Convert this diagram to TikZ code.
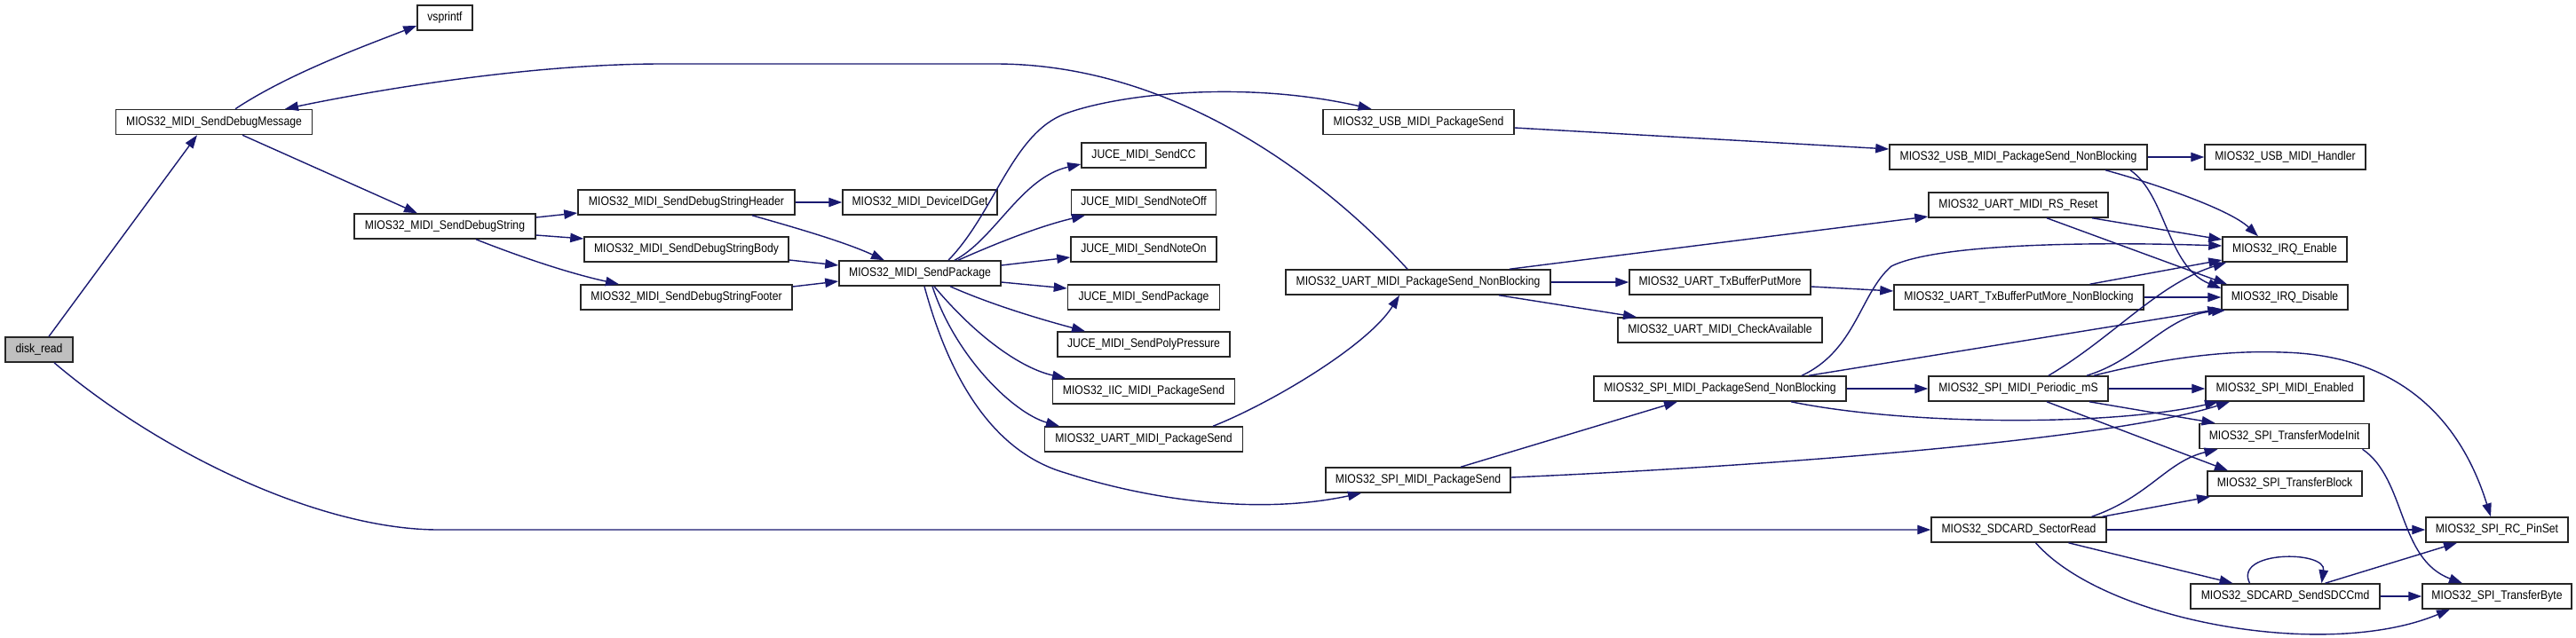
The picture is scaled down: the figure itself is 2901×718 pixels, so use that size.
\documentclass[tikz,border=0pt]{standalone}
\usepackage{fontspec}
\newfontfamily\gfont[FakeStretch=0.87]{Liberation Sans}
\usetikzlibrary{arrows.meta,calc}
\definecolor{edgec}{RGB}{25,25,112}
\begin{document}
\begin{tikzpicture}[x=0.5pt,y=-0.5pt,
 box/.style={draw=black!85,line width=0.75pt,fill=white,inner sep=0pt,minimum height=14pt,text height=5pt,text depth=1.4pt,font=\gfont\fontsize{7}{8}\selectfont},
 bw/.style={minimum width=#1*0.5pt},
 ar/.style={draw=edgec,line width=0.7pt,-{Triangle[length=7.5pt,width=5.2pt]}}]
\useasboundingbox (0,0) rectangle (2901,718);
\node[box,bw=76,fill=gray!50] (disk) at (44,394) {disk\_read};
\node[box,bw=62] (vsp) at (501,20) {vsprintf};
\node[box,bw=221] (dm) at (241,137.5) {MIOS32\_MIDI\_SendDebugMessage};
\node[box,bw=204] (ds) at (501,255) {MIOS32\_MIDI\_SendDebugString};
\node[box,bw=244] (hdr) at (773,228) {MIOS32\_MIDI\_SendDebugStringHeader};
\node[box,bw=230] (body) at (773,281) {MIOS32\_MIDI\_SendDebugStringBody};
\node[box,bw=238] (foot) at (773,335) {MIOS32\_MIDI\_SendDebugStringFooter};
\node[box,bw=174] (devid) at (1036,228) {MIOS32\_MIDI\_DeviceIDGet};
\node[box,bw=182] (sp) at (1036,308) {MIOS32\_MIDI\_SendPackage};
\node[box,bw=140] (jcc) at (1288,175) {JUCE\_MIDI\_SendCC};
\node[box,bw=163] (joff) at (1288,228) {JUCE\_MIDI\_SendNoteOff};
\node[box,bw=164] (jon) at (1288,281) {JUCE\_MIDI\_SendNoteOn};
\node[box,bw=171] (jpk) at (1288,335) {JUCE\_MIDI\_SendPackage};
\node[box,bw=194] (jpoly) at (1288,388) {JUCE\_MIDI\_SendPolyPressure};
\node[box,bw=205] (iic) at (1288,441) {MIOS32\_IIC\_MIDI\_PackageSend};
\node[box,bw=223] (uartps) at (1288,495) {MIOS32\_UART\_MIDI\_PackageSend};
\node[box,bw=215] (usbps) at (1597.5,137.5) {MIOS32\_USB\_MIDI\_PackageSend};
\node[box,bw=298] (uartnb) at (1597,318) {MIOS32\_UART\_MIDI\_PackageSend\_NonBlocking};
\node[box,bw=208] (spips) at (1597,541) {MIOS32\_SPI\_MIDI\_PackageSend};
\node[box,bw=204] (txpm) at (1937,318) {MIOS32\_UART\_TxBufferPutMore};
\node[box,bw=230] (chk) at (1937,372) {MIOS32\_UART\_MIDI\_CheckAvailable};
\node[box,bw=284] (spinb) at (1937,438) {MIOS32\_SPI\_MIDI\_PackageSend\_NonBlocking};
\node[box,bw=290] (usbnb) at (2273,177) {MIOS32\_USB\_MIDI\_PackageSend\_NonBlocking};
\node[box,bw=202] (rsr) at (2273,231) {MIOS32\_UART\_MIDI\_RS\_Reset};
\node[box,bw=281] (txnb) at (2273.5,335) {MIOS32\_UART\_TxBufferPutMore\_NonBlocking};
\node[box,bw=202] (per) at (2273,438) {MIOS32\_SPI\_MIDI\_Periodic\_mS};
\node[box,bw=197] (sect) at (2273.5,597) {MIOS32\_SDCARD\_SectorRead};
\node[box,bw=181] (usbh) at (2573.5,177) {MIOS32\_USB\_MIDI\_Handler};
\node[box,bw=140] (irqe) at (2573,281) {MIOS32\_IRQ\_Enable};
\node[box,bw=142] (irqd) at (2573,335) {MIOS32\_IRQ\_Disable};
\node[box,bw=178] (ena) at (2573,438) {MIOS32\_SPI\_MIDI\_Enabled};
\node[box,bw=191] (tmi) at (2572.5,491.5) {MIOS32\_SPI\_TransferModeInit};
\node[box,bw=174] (tblk) at (2573,545) {MIOS32\_SPI\_TransferBlock};
\node[box,bw=213] (sdc) at (2573.5,672) {MIOS32\_SDCARD\_SendSDCCmd};
\node[box,bw=160] (rcp) at (2812,597) {MIOS32\_SPI\_RC\_PinSet};
\node[box,bw=168] (tbyte) at (2812,672) {MIOS32\_SPI\_TransferByte};
% edges
\draw[ar] ($(disk.north)+(11,0)$) -- ($(dm.south)+(-19,0)$);
\draw[ar] ($(disk.south)+(17,0)$) .. controls (180,510) and (360,597) .. (494,597) -- (sect.west);
\draw[ar] ($(dm.north)+(24,0)$) .. controls (325,83) and (410,52) .. ($(vsp.west)+(0,9)$);
\draw[ar] ($(dm.south)+(32,0)$) -- ($(ds.north)+(-31,0)$);
\draw[ar] ($(uartnb.north)+(-12,0)$) .. controls (1500,210) and (1330,72) .. (1121,72) -- (746,72) .. controls (600,72) and (430,100) .. ($(dm.north)+(80,0)$);
\draw[ar] ($(sp.north)+(32,0)$) .. controls (1120,240) and (1140,150) .. (1200,128) .. controls (1260,106) and (1400,90) .. ($(usbps.north)+(-53,0)$);
\draw[ar] ($(ds.east)+(0,-10)$) -- ($(hdr.west)+(0,12)$);
\draw[ar] ($(ds.east)+(0,10)$) -- ($(body.west)+(0,-12)$);
\draw[ar] ($(ds.south)+(35,0)$) .. controls (600,295) and (650,310) .. ($(foot.north)+(-76,0)$);
\draw[ar] (hdr) -- (devid);
\draw[ar] ($(hdr.south)+(74,0)$) .. controls (890,255) and (950,272) .. ($(sp.north)+(-40,0)$);
\draw[ar] ($(body.east)+(0,12)$) -- ($(sp.west)+(0,-9)$);
\draw[ar] ($(foot.east)+(0,-12)$) -- ($(sp.west)+(0,9)$);
\draw[ar] ($(sp.north)+(39,0)$) .. controls (1120,270) and (1150,200) .. ($(jcc.west)+(0,10)$);
\draw[ar] ($(sp.north)+(43,0)$) .. controls (1120,275) and (1170,255) .. ($(joff.south)+(-66,0)$);
\draw[ar] ($(sp.east)+(0,-9)$) -- ($(jon.west)+(0,9)$);
\draw[ar] ($(sp.east)+(0,10)$) -- ($(jpk.west)+(0,-10)$);
\draw[ar] ($(sp.south)+(34,0)$) .. controls (1120,345) and (1180,362) .. ($(jpoly.north)+(-66,0)$);
\draw[ar] ($(sp.south)+(16,0)$) .. controls (1100,380) and (1150,415) .. ($(iic.north)+(-88,0)$);
\draw[ar] ($(sp.south)+(14,0)$) .. controls (1075,400) and (1140,465) .. ($(uartps.north)+(-95,0)$);
\draw[ar] ($(sp.south)+(5,0)$) .. controls (1070,430) and (1120,510) .. (1200,533) .. controls (1300,565) and (1420,580) .. ($(spips.south)+(-64,0)$);
\draw[ar] ($(uartps.north)+(78,0)$) .. controls (1430,455) and (1540,390) .. ($(uartnb.south)+(-21,0)$);
\draw[ar] ($(usbps.east)+(0,6.5)$) -- ($(usbnb.west)+(0,-9)$);
\draw[ar] (usbnb) -- (usbh);
\draw[ar] ($(usbnb.south)+(98,0)$) .. controls (2420,205) and (2510,235) .. ($(irqe.north)+(-30,0)$);
\draw[ar] ($(usbnb.south)+(126,0)$) .. controls (2440,220) and (2440,300) .. ($(irqd.west)+(0,-10)$);
\draw[ar] ($(uartnb.north)+(103,0)$) -- ($(rsr.west)+(0,13)$);
\draw[ar] (uartnb) -- (txpm);
\draw[ar] ($(uartnb.south)+(91,0)$) -- ($(chk.north)+(-94,0)$);
\draw[ar] ($(rsr.south)+(83,0)$) -- ($(irqe.west)+(0,-11)$);
\draw[ar] ($(rsr.south)+(32,0)$) -- ($(irqd.north)+(-65,0)$);
\draw[ar] ($(txpm.east)+(0,5)$) -- ($(txnb.west)+(0,-7)$);
\draw[ar] ($(txnb.north)+(80,0)$) -- ($(irqe.west)+(0,12)$);
\draw[ar] (txnb) -- (irqd);
\draw[ar] ($(spinb.north)+(92,0)$) .. controls (2090,395) and (2095,330) .. (2130,300) .. controls (2180,275) and (2350,272) .. ($(irqe.west)+(0,-4)$);
\draw[ar] ($(spinb.north)+(100,0)$) -- ($(irqd.west)+(0,13)$);
\draw[ar] (spinb) -- (per);
\draw[ar] ($(spinb.south)+(80,0)$) .. controls (2150,480) and (2380,480) .. ($(ena.south)+(-75,0)$);
\draw[ar] ($(spips.east)+(0,-3)$) .. controls (2000,525) and (2380,495) .. ($(ena.south)+(-62,0)$);
\draw[ar] ($(per.north)+(34,0)$) .. controls (2380,380) and (2430,320) .. ($(irqe.south west)+(5,0)$);
\draw[ar] ($(per.north)+(77,0)$) .. controls (2410,405) and (2440,355) .. ($(irqd.south)+(-67,0)$);
\draw[ar] (per) -- (ena);
\draw[ar] ($(per.south)+(80,0)$) -- ($(tmi.north)+(-78,0)$);
\draw[ar] ($(per.south)+(32,0)$) -- ($(tblk.north)+(-64,0)$);
\draw[ar] ($(per.north)+(85,0)$) .. controls (2450,400) and (2520,395) .. (2570,397) .. controls (2700,400) and (2770,470) .. ($(rcp.north)+(-7,0)$);
\draw[ar] ($(spips.north)+(48,0)$) -- ($(spinb.south)+(-48,0)$);
\draw[ar] ($(sect.north)+(82,0)$) .. controls (2420,560) and (2440,520) .. ($(tmi.south)+(-75,0)$);
\draw[ar] ($(sect.north)+(94,0)$) -- ($(tblk.south)+(-84,0)$);
\draw[ar] (sect) -- (rcp);
\draw[ar] ($(sect.south)+(56,0)$) -- ($(sdc.north)+(-59,0)$);
\draw[ar] ($(sect.south)+(19,0)$) .. controls (2370,700) and (2620,745) .. ($(tbyte.south)+(-53,0)$);
\draw[ar] ($(sdc.north)+(-40,0)$) .. controls (2515,620) and (2620,620) .. ($(sdc.north)+(41,0)$);
\draw[ar] ($(sdc.north)+(45,0)$) -- ($(rcp.south)+(-45,0)$);
\draw[ar] (sdc) -- (tbyte);
\draw[ar] ($(tmi.south)+(88,0)$) .. controls (2710,540) and (2700,630) .. ($(tbyte.north)+(-39,0)$);
\end{tikzpicture}
\end{document}
